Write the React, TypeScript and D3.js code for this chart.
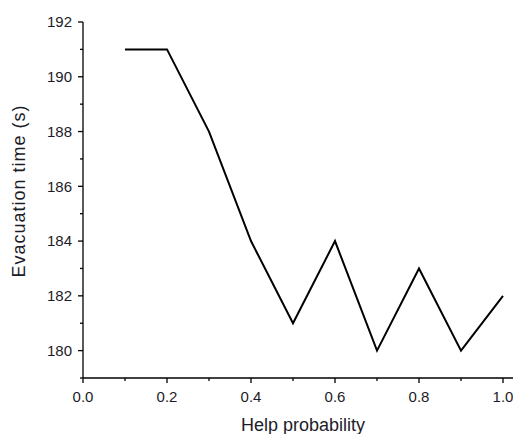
import React, { useEffect, useRef } from 'react';
import * as d3 from 'd3';

const helpProbability = [0.1, 0.2, 0.3, 0.4, 0.5, 0.6, 0.7, 0.8, 0.9, 1.0];
const evacuationTime = [191, 191, 188, 184, 181, 184, 180, 183, 180, 182];
const xTicks = [0, 0.2, 0.4, 0.6, 0.8, 1.0];
const xMinorTicks = [0.1, 0.3, 0.5, 0.7, 0.9];
const yTicks = [180, 182, 184, 186, 188, 190, 192];
const yMinorTicks = [179, 181, 183, 185, 187, 189, 191];

export default function App() {
  const svgRef = useRef<SVGSVGElement>(null);

  useEffect(() => {
    const width = 513;
    const height = 434;
    const margin = { top: 22, right: 0, bottom: 56, left: 83 };
    const innerW = width - margin.left - margin.right;
    const innerH = height - margin.top - margin.bottom;

    const svg = d3.select(svgRef.current);
    svg.selectAll('*').remove();
    const g = svg.append('g').attr('transform', `translate(${margin.left},${margin.top})`);

    const x = d3.scaleLinear().domain([0, 1.0238]).range([0, innerW]);
    const y = d3.scaleLinear().domain([179, 192]).range([innerH, 0]);

    const font = '"Liberation Sans", Arial, sans-serif';
    const ink = '#1c1c28';

    // x axis
    const xAxis = g.append('g').attr('transform', `translate(0,${innerH})`);
    xAxis.append('line').attr('x1', 0).attr('x2', innerW).attr('stroke', '#000').attr('stroke-width', 1.3);
    xAxis.selectAll('.maj').data(xTicks).join('line')
      .attr('x1', d => x(d)).attr('x2', d => x(d)).attr('y1', 0).attr('y2', 5)
      .attr('stroke', '#000').attr('stroke-width', 1.3);
    xAxis.selectAll('.min').data(xMinorTicks).join('line')
      .attr('x1', d => x(d)).attr('x2', d => x(d)).attr('y1', 0).attr('y2', 3)
      .attr('stroke', '#000').attr('stroke-width', 1.3);
    xAxis.selectAll('text').data(xTicks).join('text')
      .attr('x', d => x(d)).attr('y', 24).attr('text-anchor', 'middle')
      .attr('font-family', font).attr('font-size', 15).attr('fill', ink)
      .text(d => d.toFixed(1));

    // y axis
    const yAxis = g.append('g');
    yAxis.append('line').attr('y1', 0).attr('y2', innerH).attr('stroke', '#000').attr('stroke-width', 1.3);
    yAxis.selectAll('.maj').data(yTicks).join('line')
      .attr('y1', d => y(d)).attr('y2', d => y(d)).attr('x1', 0).attr('x2', -5)
      .attr('stroke', '#000').attr('stroke-width', 1.3);
    yAxis.selectAll('.min').data(yMinorTicks).join('line')
      .attr('y1', d => y(d)).attr('y2', d => y(d)).attr('x1', 0).attr('x2', -3)
      .attr('stroke', '#000').attr('stroke-width', 1.3);
    yAxis.selectAll('text').data(yTicks).join('text')
      .attr('x', -11).attr('y', d => y(d)).attr('dy', '0.36em').attr('text-anchor', 'end')
      .attr('font-family', font).attr('font-size', 15).attr('fill', ink)
      .text(d => d);

    // titles
    svg.append('text').attr('x', 303).attr('y', 431)
      .attr('text-anchor', 'middle').attr('font-family', font).attr('font-size', 18).attr('fill', ink)
      .text('Help probability');
    svg.append('text').attr('transform', 'translate(25,191) rotate(-90)')
      .attr('text-anchor', 'middle').attr('font-family', font).attr('font-size', 18).attr('fill', ink)
      .attr('letter-spacing', 1)
      .text('Evacuation time (s)');

    // line
    const line = d3.line<number>().x((d, i) => x(helpProbability[i])).y(d => y(d));
    g.append('path').datum(evacuationTime).attr('fill', 'none').attr('stroke', '#000')
      .attr('stroke-width', 2).attr('stroke-linejoin', 'miter').attr('d', line);
  }, []);

  return (
    <svg ref={svgRef} width={513} height={434}
      style={{ position: 'absolute', left: 0, top: 0, display: 'block', background: '#fff' }} />
  );
}
